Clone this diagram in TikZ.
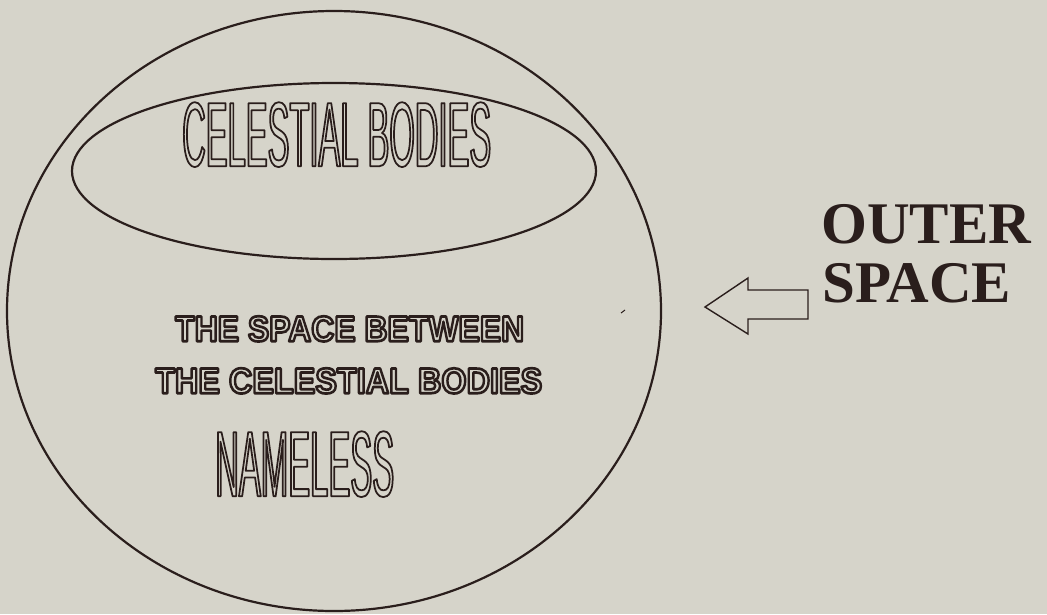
\documentclass[tikz,border=0pt]{standalone}
\usepackage{fontspec}
\usepackage{graphicx}
\setmainfont{Liberation Serif}
\newfontfamily\condfont[FakeStretch=0.36]{Liberation Sans}
\newfontfamily\heavyfont{Liberation Sans}
\usetikzlibrary{shapes.geometric}
\definecolor{paper}{RGB}{214,212,202}
\definecolor{ink}{RGB}{42,30,28}
% outlined (stroked, hollow) text: #1 = stroke width in bp
\newcommand\outl[2]{\special{pdf:literal direct #1 w 1 j 0.165 0.118 0.110 RG 1 Tr}#2\special{pdf:literal direct 0 Tr}}
\tikzset{
  ring/.style={ellipse, draw=ink, line width=2.2pt, inner sep=0pt},
  label/.style={inner sep=0pt, anchor=north west},
  bigword/.style={inner sep=0pt, anchor=base west, text=ink,
    font=\bfseries\fontsize{59}{59}\selectfont},
  blockarrow/.style={draw=ink, line width=1.4pt, line join=miter}
}
\begin{document}
\begin{tikzpicture}[x=1pt,y=-1pt]
\fill[paper] (0,0) rectangle (1047,614);
\useasboundingbox (0,0) rectangle (1047,614);

\node[ring, minimum width=654pt, minimum height=600pt] (space) at (334,311) {};
\node[ring, minimum width=524pt, minimum height=176pt] (bodies) at (334,171) {};

\node[label] (cbtext) at (182,102)
  {\resizebox{309pt}{64pt}{\condfont\fontsize{89}{89}\selectfont\outl{1.7}{CELESTIAL BODIES}}};
\node[label] (between1) at (175,316)
  {\resizebox{349pt}{25pt}{\heavyfont\bfseries\fontsize{35}{35}\selectfont\outl{2.6}{THE SPACE BETWEEN}}};
\node[label] (between2) at (155,368)
  {\resizebox{387pt}{25pt}{\heavyfont\bfseries\fontsize{35}{35}\selectfont\outl{2.6}{THE CELESTIAL BODIES}}};
\node[label] (nameless) at (215,431)
  {\resizebox{179pt}{65pt}{\condfont\fontsize{89}{89}\selectfont\outl{1.7}{NAMELESS}}};

\node[bigword] (outer) at (821,243) {OUTER};
\node[bigword] (spaceword) at (822,302) {SPACE};

\draw[blockarrow] (705,307) -- (748,278) -- (748,290) -- (808,290) -- (808,319)
  -- (748,319) -- (748,334) -- cycle;

\draw[ink, line width=1pt] (621,313) -- (625,310);
\end{tikzpicture}
\end{document}
